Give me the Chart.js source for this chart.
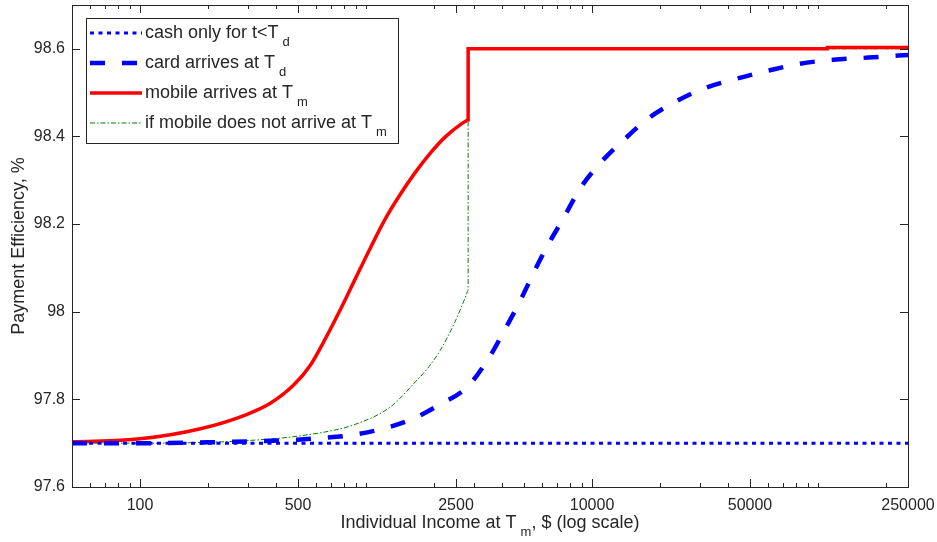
<!DOCTYPE html>
<html>
<head>
<meta charset="utf-8">
<title>Payment Efficiency</title>
<script src="https://cdn.jsdelivr.net/npm/chart.js@4.4.1/dist/chart.umd.min.js"></script>
<style>
  html, body { margin: 0; padding: 0; background: #fff; }
  #wrap { width: 937px; height: 542px; }
</style>
</head>
<body>
<div id="wrap"><canvas id="effChart" width="937" height="542"></canvas></div>
<script>
// Tick values
const xTicks = [100, 500, 2500, 10000, 50000, 250000];
const yTicks = [97.6, 97.8, 98.0, 98.2, 98.4, 98.6];

// cash only for t<T_d
const cashIncome = [50, 250000];
const cashEff = [97.7, 97.7];

// card arrives at T_d
const cardIncome = [50, 100, 200, 300, 500, 600, 850, 1150, 1600, 2100, 2800, 3500, 4100, 4800, 5500, 6300, 7500, 8900, 10900, 14000, 17600, 23000, 31000, 43000, 60000, 83000, 117000, 167000, 250000];
const cardEff = [97.700, 97.700, 97.702, 97.704, 97.708, 97.711, 97.718, 97.731, 97.755, 97.787, 97.828, 97.895, 97.958, 98.024, 98.088, 98.147, 98.215, 98.283, 98.340, 98.395, 98.440, 98.477, 98.509, 98.531, 98.550, 98.566, 98.575, 98.580, 98.586];

// mobile arrives at T_m
const mobileIncome = [50, 100, 185, 298, 377, 477, 567, 660, 770, 896, 1044, 1217, 1418, 1652, 1925, 2243, 2613, 2780, 2830, 2830, 110000, 110000, 250000];
const mobileEff = [97.703, 97.710, 97.733, 97.766, 97.791, 97.832, 97.878, 97.938, 98.005, 98.075, 98.145, 98.212, 98.268, 98.318, 98.362, 98.399, 98.427, 98.436, 98.438, 98.600, 98.600, 98.603, 98.603];

// if mobile does not arrive at T_m
const noMobileIncome = [50, 100, 200, 300, 480, 800, 950, 1120, 1320, 1620, 1900, 2130, 2480, 2780, 2830, 2830, 250000];
const noMobileEff = [97.700, 97.700, 97.702, 97.706, 97.715, 97.735, 97.748, 97.764, 97.788, 97.835, 97.875, 97.912, 97.978, 98.039, 98.049, 98.600, 98.600];

// legend text: [main, subscript]
const seriesLabels = [
    ['cash only for t<T', 'd'],
    ['card arrives at T', 'd'],
    ['mobile arrives at T', 'm'],
    ['if mobile does not arrive at T', 'm']
];

const FONT = '"Liberation Sans", Arial, Helvetica, sans-serif';
const INK = '#262626';

function toPoints(xs, ys) {
    return xs.map((x, i) => ({ x: x, y: ys[i] }));
}

// draw main text followed by a subscript and an optional tail
function drawSubText(ctx, x, y, main, sub, rest, size, subSize, align) {
    ctx.font = `${size}px ${FONT}`;
    const w1 = ctx.measureText(main).width;
    const w3 = rest ? ctx.measureText(rest).width : 0;
    ctx.font = `${subSize}px ${FONT}`;
    const w2 = ctx.measureText(sub).width;
    const gap = 4;
    const sx = align === 'center' ? x - (w1 + gap + w2 + w3) / 2 : x;
    ctx.textAlign = 'left';
    ctx.textBaseline = 'middle';
    ctx.font = `${size}px ${FONT}`;
    ctx.fillText(main, sx, y);
    ctx.font = `${subSize}px ${FONT}`;
    ctx.fillText(sub, sx + w1 + gap, y + size * 0.55);
    if (rest) {
        ctx.font = `${size}px ${FONT}`;
        ctx.fillText(rest, sx + w1 + gap + w2, y);
    }
}

// MATLAB-like box, inward ticks, axis titles and legend
const matlabAxes = {
    id: 'matlabAxes',
    afterDatasetsDraw(chart) {
        const { ctx, chartArea: a, scales: { x, y } } = chart;
        ctx.save();
        ctx.strokeStyle = INK;
        ctx.lineWidth = 1;
        ctx.setLineDash([]);
        ctx.beginPath();
        // minor ticks of the log axis
        for (let p = 10; p <= 100000; p *= 10) {
            for (let m = 1; m <= 9; m++) {
                const v = m * p;
                if (v < x.min || v > x.max || xTicks.includes(v)) continue;
                const px = Math.round(x.getPixelForValue(v)) + 0.5;
                ctx.moveTo(px, a.bottom); ctx.lineTo(px, a.bottom - 4);
                ctx.moveTo(px, a.top); ctx.lineTo(px, a.top + 4);
            }
        }
        xTicks.forEach(v => {
            const px = Math.round(x.getPixelForValue(v)) + 0.5;
            ctx.moveTo(px, a.bottom); ctx.lineTo(px, a.bottom - 8);
            ctx.moveTo(px, a.top); ctx.lineTo(px, a.top + 8);
        });
        yTicks.forEach(v => {
            const py = Math.round(y.getPixelForValue(v)) + 0.5;
            ctx.moveTo(a.left, py); ctx.lineTo(a.left + 8, py);
            ctx.moveTo(a.right, py); ctx.lineTo(a.right - 8, py);
        });
        ctx.stroke();
        ctx.strokeRect(Math.round(a.left) + 0.5, Math.round(a.top) + 0.5,
            Math.round(a.right - a.left), Math.round(a.bottom - a.top));

        // axis titles
        ctx.fillStyle = INK;
        drawSubText(ctx, (a.left + a.right) / 2, 523, 'Individual Income at T', 'm', ', $ (log scale)', 18, 13, 'center');
        ctx.translate(19, (a.top + a.bottom) / 2);
        ctx.rotate(-Math.PI / 2);
        ctx.font = `18px ${FONT}`;
        ctx.textAlign = 'center';
        ctx.textBaseline = 'middle';
        ctx.fillText('Payment Efficiency, %', 0, 0);
        ctx.restore();
    },
    afterDraw(chart) {
        const ctx = chart.ctx;
        const bx = 86, by = 18, bw = 312, bh = 125;
        ctx.save();
        ctx.fillStyle = '#fff';
        ctx.fillRect(bx, by, bw, bh);
        ctx.strokeStyle = INK;
        ctx.lineWidth = 1;
        ctx.strokeRect(bx + 0.5, by + 0.5, bw, bh);
        chart.data.datasets.forEach((ds, i) => {
            const ry = by + 15 + i * 30;
            ctx.strokeStyle = ds.borderColor;
            ctx.lineWidth = ds.borderWidth;
            ctx.setLineDash(ds.borderDash || []);
            ctx.beginPath();
            ctx.moveTo(bx + 4, ry);
            ctx.lineTo(bx + 56, ry);
            ctx.stroke();
            ctx.setLineDash([]);
            ctx.fillStyle = INK;
            drawSubText(ctx, bx + 59, ry, seriesLabels[i][0], seriesLabels[i][1], '', 18, 13, 'left');
        });
        ctx.restore();
    }
};

const chart = new Chart(document.getElementById('effChart').getContext('2d'), {
    type: 'line',
    data: {
        datasets: [{
            label: 'cash only for t<T_d',
            data: toPoints(cashIncome, cashEff),
            borderColor: '#0000ff',
            borderWidth: 3,
            borderDash: [4, 4.5]
        }, {
            label: 'card arrives at T_d',
            data: toPoints(cardIncome, cardEff),
            borderColor: '#0000ff',
            borderWidth: 4.5,
            borderDash: [15, 17]
        }, {
            label: 'mobile arrives at T_m',
            data: toPoints(mobileIncome, mobileEff),
            borderColor: '#ff0000',
            borderWidth: 3.5
        }, {
            label: 'if mobile does not arrive at T_m',
            data: toPoints(noMobileIncome, noMobileEff),
            borderColor: '#008000',
            borderWidth: 1,
            borderDash: [5, 2, 1.5, 2]
        }]
    },
    options: {
        responsive: false,
        animation: false,
        layout: { padding: { top: 5, right: 29, bottom: 0, left: 0 } },
        plugins: {
            legend: { display: false },
            tooltip: { enabled: false }
        },
        elements: {
            point: { radius: 0 },
            line: { cubicInterpolationMode: 'monotone', fill: false }
        },
        scales: {
            x: {
                type: 'logarithmic',
                min: 50,
                max: 250000,
                grid: { display: false, drawTicks: false },
                border: { display: false },
                afterBuildTicks: s => { s.ticks = xTicks.map(v => ({ value: v })); },
                afterFit: s => { s.height = 55; s.paddingLeft = 0; s.paddingRight = 0; },
                ticks: {
                    autoSkip: false,
                    maxRotation: 0,
                    padding: 9,
                    color: INK,
                    font: { family: FONT, size: 16 },
                    callback: v => String(v)
                }
            },
            y: {
                type: 'linear',
                min: 97.6,
                max: 98.7,
                grid: { display: false, drawTicks: false },
                border: { display: false },
                afterBuildTicks: s => { s.ticks = yTicks.map(v => ({ value: v })); },
                afterFit: s => { s.width = 72; s.paddingTop = 0; s.paddingBottom = 0; },
                ticks: {
                    padding: 7,
                    color: INK,
                    font: { family: FONT, size: 16 },
                    callback: v => String(+Number(v).toFixed(1))
                }
            }
        }
    },
    plugins: [matlabAxes]
});
</script>
</body>
</html>
